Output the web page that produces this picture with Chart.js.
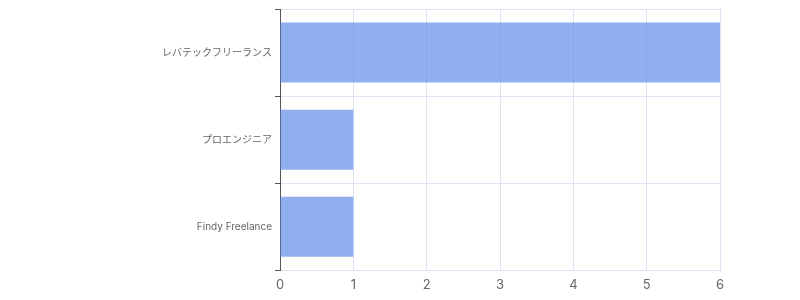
<!DOCTYPE html>
<html>
<head>
<meta charset="utf-8">
<script src="https://cdn.jsdelivr.net/npm/chart.js@4"></script>
<style>
  html, body { margin: 0; padding: 0; background: #fff; }
  #wrap { width: 800px; height: 300px; }
</style>
</head>
<body>
<div id="wrap"><canvas id="c"></canvas></div>
<script>
// services and how many times each one was counted
const services = ['レバテックフリーランス', 'プロエンジニア', 'Findy Freelance'];
const counts = [6, 1, 1];
const xTicks = [0, 1, 2, 3, 4, 5, 6];

const font = "Inter, 'Noto Sans CJK JP', sans-serif";

new Chart(document.getElementById('c'), {
    type: 'bar',
    data: {
        labels: services,
        datasets: [{
            data: counts,
            backgroundColor: 'rgba(98,141,233,0.7)',
            borderWidth: 0,
            barPercentage: 0.86
        }]
    },
    options: {
        indexAxis: 'y',
        responsive: true,
        maintainAspectRatio: false,
        animation: false,
        layout: {padding: {left: 0, right: 80, top: 3, bottom: 0}},
        plugins: {legend: {display: false}, tooltip: {enabled: false}},
        scales: {
            x: {
                min: xTicks[0],
                max: xTicks[xTicks.length - 1],
                ticks: {stepSize: 1, color: '#666', font: {family: font, size: 13}, padding: 7},
                grid: {color: '#dde3f2', drawTicks: false},
                border: {color: '#dde3f2'}
            },
            y: {
                afterFit: function(s){ s.width = 280; },
                ticks: {color: '#666', font: {family: font, size: 10}, padding: 3},
                grid: {color: '#dde3f2', tickColor: '#555', tickLength: 5, offset: true},
                border: {color: '#555'}
            }
        }
    }
});
</script>
</body>
</html>
